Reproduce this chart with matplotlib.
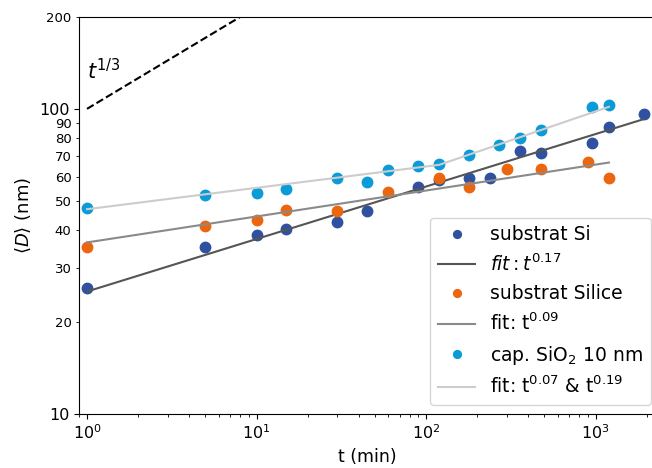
import numpy as np
import matplotlib
matplotlib.use("Agg")
import matplotlib.pyplot as plt

# data (t in min, <D> in nm)
t_si = [1, 5, 10, 15, 30, 45, 90, 120, 180, 240, 360, 480, 960, 1200, 1920]
d_si = [25.9, 35.2, 38.6, 40.4, 42.7, 46.4, 55.4, 58.4, 59.3, 59.3, 72.8, 71.8, 77.2, 86.9, 96.4]

t_silice = [1, 5, 10, 15, 30, 60, 120, 180, 300, 480, 900, 1200]
d_silice = [35.2, 41.3, 43.2, 46.6, 46.2, 53.5, 59.3, 55.3, 63.7, 63.7, 67.1, 59.3]

t_cap = [1, 5, 10, 15, 30, 45, 60, 90, 120, 180, 270, 360, 480, 960, 1200]
d_cap = [47.4, 52.4, 53.1, 54.7, 59.3, 57.7, 63.0, 65.0, 65.9, 70.8, 76.2, 80.2, 85.1, 101.3, 102.8]

# power-law fit parameters (prefactor, exponent)
fit_si = (25.2, 0.172)
fit_silice = (36.5, 0.085)
fit_cap = (46.9, 0.07, 0.19, 120)   # prefactor, exp1, exp2, crossover time

c_si = '#2f51a0'
c_silice = '#ec6610'
c_cap = '#0b9bd7'

fig = plt.figure(figsize=(6.52, 4.68), dpi=100)
ax = fig.add_axes([79 / 652, 54 / 468, 576 / 652, 397 / 468])
ax.set_xscale('log')
ax.set_yscale('log')

# t^(1/3) guide
tg = np.array([1, 10])
ax.plot(tg, 100 * tg ** (1 / 3), 'k--', lw=1.5)
ax.text(1.0, 133, r'$t^{1/3}$', fontsize=15, ha='left', va='center')

ts = np.array(t_si, dtype=float)
ax.plot(t_si, d_si, 'o', color=c_si, ms=7.5, label='substrat Si')
ax.plot(ts, fit_si[0] * ts ** fit_si[1], color='#555555', lw=1.5,
        label=r'$fit: t^{0.17}$')

tl = np.array(t_silice, dtype=float)
ax.plot(t_silice, d_silice, 'o', color=c_silice, ms=7.5, label='substrat Silice')
ax.plot(tl, fit_silice[0] * tl ** fit_silice[1], color='#8a8a8a', lw=1.5,
        label=r'fit: t$^{0.09}$')

tc = np.array(t_cap, dtype=float)
a, n1, n2, tx = fit_cap
fc = np.where(tc <= tx, a * tc ** n1, a * tx ** n1 * (tc / tx) ** n2)
ax.plot(t_cap, d_cap, 'o', color=c_cap, ms=7.5, label=r'cap. SiO$_2$ 10 nm')
ax.plot(tc, fc, color='#cccccc', lw=1.5, label=r'fit: t$^{0.07}$ & t$^{0.19}$')

ax.set_xlim(0.897, 2244)
ax.set_ylim(10, 200)

ax.set_yticks([10, 100], ['10', '100'])
minor = [20, 30, 40, 50, 60, 70, 80, 90, 200]
ax.set_yticks(minor, [str(m) for m in minor], minor=True)
ax.tick_params(axis='both', which='major', labelsize=11.5)
ax.tick_params(axis='y', which='minor', labelsize=9.5)

ax.set_xlabel('t (min)', fontsize=12.5)
ax.set_ylabel(r'$\langle D\rangle$ (nm)', fontsize=13)

ax.legend(loc='lower right', fontsize=13.5, markerscale=0.75,
          bbox_to_anchor=(0.993, 0.0227), borderaxespad=0)

fig.savefig('out.png', dpi=100)
